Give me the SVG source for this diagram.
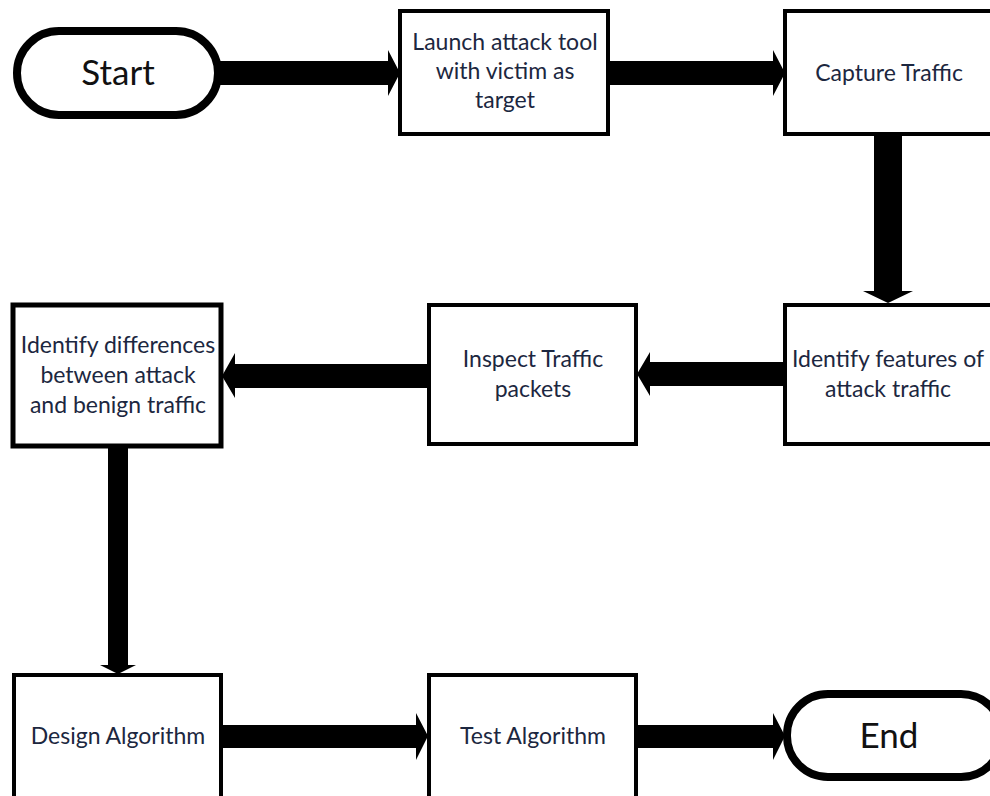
<svg xmlns="http://www.w3.org/2000/svg" width="990" height="796" viewBox="0 0 990 796">
<style>
.box{fill:#fff;stroke:#000;stroke-width:4}
.pill{fill:#fff;stroke:#000;stroke-width:8}
.t{font-family:Lato,"Open Sans",sans-serif;font-size:23px;fill:#1c2740;text-anchor:middle}
.big{font-family:Lato,"Open Sans",sans-serif;font-size:35px;fill:#111;text-anchor:middle}
.arr{fill:#000}
</style>
<rect width="990" height="796" fill="#fff"/>
<g id="connectors">
<polygon class="arr" points="220,61 388,61 388,50 400,73 388,96 388,85 220,85"/>
<polygon class="arr" points="608,61 773,61 773,50 785,73 773,96 773,85 608,85"/>
<polygon class="arr" points="874,135 902,135 902,291 913,291 888,303 863,291 874,291"/>
<polygon class="arr" points="785,362 650,362 650,352 637,374 650,396 650,386 785,386"/>
<polygon class="arr" points="428,364 235,364 235,353 222,376 235,398 235,388 428,388"/>
<polygon class="arr" points="108,447 128,447 128,665 136,665 118,674 100,665 108,665"/>
<polygon class="arr" points="222,725 416,725 416,713 428,736 416,760 416,748 222,748"/>
<polygon class="arr" points="637,725 773,725 773,713 785,736 773,760 773,748 637,748"/>
</g>
<g id="start"><rect class="pill" x="17" y="31" width="201" height="84" rx="42"/><text class="big" x="118" y="85">Start</text></g>
<g id="launch"><rect class="box" x="400" y="11" width="208" height="123"/>
<text class="t" x="505" y="50">Launch attack tool</text><text class="t" x="505" y="79">with victim as</text><text class="t" x="505" y="108">target</text></g>
<g id="capture"><rect class="box" x="785" y="11" width="210" height="123"/><text class="t" x="889" y="81">Capture Traffic</text></g>
<g id="features"><rect class="box" x="785" y="305" width="210" height="139"/>
<text class="t" x="888" y="367">Identify features of</text><text class="t" x="888" y="397">attack traffic</text></g>
<g id="inspect"><rect class="box" x="429" y="305" width="207" height="139"/>
<text class="t" x="533" y="367">Inspect Traffic</text><text class="t" x="533" y="397">packets</text></g>
<g id="differences"><rect class="box" x="13" y="305" width="208" height="141" style="stroke-width:5"/>
<text class="t" x="118" y="353">Identify differences</text><text class="t" x="118" y="383">between attack</text><text class="t" x="118" y="413">and benign traffic</text></g>
<g id="design"><rect class="box" x="14" y="675" width="207" height="130"/><text class="t" x="118" y="744">Design Algorithm</text></g>
<g id="test"><rect class="box" x="429" y="675" width="207" height="130"/><text class="t" x="533" y="744">Test Algorithm</text></g>
<g id="end"><rect class="pill" x="787" y="694" width="215" height="83" rx="41"/><text class="big" x="889" y="748">End</text></g>
</svg>
